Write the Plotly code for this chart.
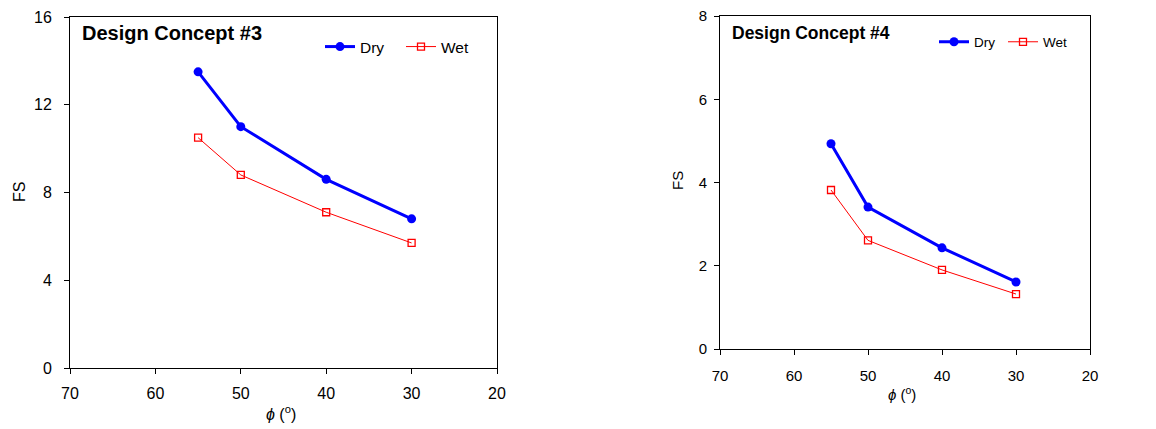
import plotly.graph_objects as go

phi = [55, 50, 40, 30]
dry3 = [13.5, 11.0, 8.6, 6.8]
wet3 = [10.5, 8.8, 7.1, 5.7]
dry4 = [4.93, 3.41, 2.43, 1.61]
wet4 = [3.82, 2.61, 1.90, 1.32]
xticks = [70, 60, 50, 40, 30, 20]
yticks3 = [0, 4, 8, 12, 16]
yticks4 = [0, 2, 4, 6, 8]

# page body has an 8px margin, so the figure is drawn at (8, 8)
OFF = 8
W, H = 1156 - OFF, 429 - OFF
FONT = "Liberation Sans, Arial, sans-serif"

def px(x):
    return (x - OFF) / W

def py(y):
    return 1 - (y - OFF) / H

fig = go.Figure()

BLUE = "rgb(0,0,255)"
RED = "rgb(255,0,0)"

fig.add_trace(go.Scatter(x=phi, y=dry3, name="Dry", mode="lines+markers",
                         line=dict(color=BLUE, width=3),
                         marker=dict(symbol="circle", size=9, color=BLUE),
                         xaxis="x", yaxis="y", legend="legend"))
fig.add_trace(go.Scatter(x=phi, y=wet3, name="Wet", mode="lines+markers",
                         line=dict(color=RED, width=1),
                         marker=dict(symbol="square-open", size=7, color=RED, line=dict(width=1.3)),
                         xaxis="x", yaxis="y", legend="legend"))
fig.add_trace(go.Scatter(x=phi, y=dry4, name="Dry", mode="lines+markers",
                         line=dict(color=BLUE, width=3),
                         marker=dict(symbol="circle", size=9, color=BLUE),
                         xaxis="x2", yaxis="y2", legend="legend2"))
fig.add_trace(go.Scatter(x=phi, y=wet4, name="Wet", mode="lines+markers",
                         line=dict(color=RED, width=1),
                         marker=dict(symbol="square-open", size=7, color=RED, line=dict(width=1.3)),
                         xaxis="x2", yaxis="y2", legend="legend2"))

axis_common = dict(showline=True, mirror=True, linecolor="black", linewidth=1,
                   ticks="outside", ticklen=5, tickcolor="black", showgrid=False,
                   zeroline=False, autorange=False, automargin=False,
                   ticklabeloverflow="allow")

fig.update_layout(
    width=W, height=H,
    margin=dict(l=0, r=0, t=0, b=0, autoexpand=False),
    paper_bgcolor="white", plot_bgcolor="white",
    font=dict(family=FONT, color="black"),
    xaxis=dict(domain=[px(70), px(497)], range=[70, 20], tickvals=xticks,
               tickfont=dict(size=16), anchor="y", ticklabelstandoff=6, **axis_common),
    yaxis=dict(domain=[py(368), py(17)], range=[0, 16], tickvals=yticks3,
               tickfont=dict(size=16), anchor="x", ticklabelstandoff=9, **axis_common),
    xaxis2=dict(domain=[px(720), px(1090)], range=[70, 20], tickvals=xticks,
                tickfont=dict(size=15), anchor="y2", ticklabelstandoff=8, **axis_common),
    yaxis2=dict(domain=[py(349), py(16)], range=[0, 8], tickvals=yticks4,
                tickfont=dict(size=15), anchor="x2", ticklabelstandoff=4, **axis_common),
    legend=dict(orientation="h", x=px(320), y=py(47), xanchor="left", yanchor="middle",
                bgcolor="rgba(0,0,0,0)", font=dict(size=15.5), entrywidth=36),
    legend2=dict(orientation="h", x=px(934), y=py(42), xanchor="left", yanchor="middle",
                 bgcolor="rgba(0,0,0,0)", font=dict(size=13.5), entrywidth=24),
    annotations=[
        dict(text="<b>Design Concept #3</b>", x=px(80), y=py(33), xref="paper", yref="paper",
             xanchor="left", yanchor="middle", showarrow=False, font=dict(size=20)),
        dict(text="<b>Design Concept #4</b>", x=px(730), y=py(33), xref="paper", yref="paper",
             xanchor="left", yanchor="middle", showarrow=False, font=dict(size=17.5)),
        dict(text="FS", x=px(19), y=py(192), xref="paper", yref="paper", textangle=-90,
             xanchor="center", yanchor="middle", showarrow=False, font=dict(size=16)),
        dict(text="FS", x=px(677), y=py(181), xref="paper", yref="paper", textangle=-90,
             xanchor="center", yanchor="middle", showarrow=False, font=dict(size=15)),
        dict(text="<i>ϕ</i> (<sup>o</sup>)", x=px(281), y=py(413), xref="paper", yref="paper",
             xanchor="center", yanchor="middle", showarrow=False, font=dict(size=16)),
        dict(text="<i>ϕ</i> (<sup>o</sup>)", x=px(902), y=py(393), xref="paper", yref="paper",
             xanchor="center", yanchor="middle", showarrow=False, font=dict(size=15)),
    ],
)

fig.write_html("out.html")
